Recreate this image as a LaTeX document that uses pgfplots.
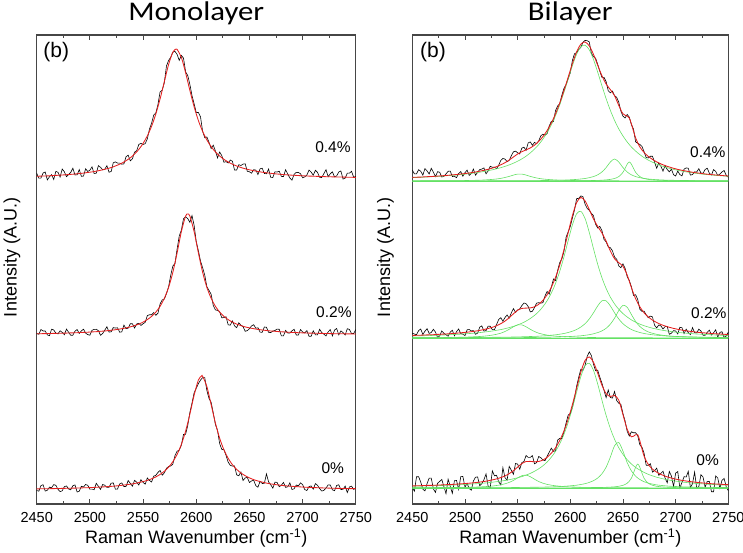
\documentclass[border=0pt]{standalone}
\usepackage{pgfplots}
\pgfplotsset{compat=1.18}
\usepackage{pgfplotstable}
\usepackage{graphicx}
\usepackage{fontspec}
\setmainfont{Liberation Sans}
\newfontfamily\titlefont{Carlito}
\definecolor{fitred}{RGB}{228,30,30}
\definecolor{fitgreen}{RGB}{100,225,100}
\definecolor{axgray}{RGB}{70,70,70}

% ---------- measured spectra (black) ----------
\pgfplotstableread{
x d
2450 330.7
2452 325.8
2454 325.9
2456 331.0
2458 332.0
2460 324.1
2462 327.2
2464 329.4
2466 324.5
2468 332.6
2470 331.7
2472 326.9
2474 335.0
2476 332.2
2478 327.3
2480 329.5
2482 331.6
2484 335.8
2486 329.0
2488 329.2
2490 334.4
2492 327.7
2494 327.9
2496 335.2
2498 332.5
2500 333.8
2502 337.1
2504 330.5
2506 330.8
2508 338.3
2510 336.7
2512 334.2
2514 334.7
2516 338.3
2518 331.8
2520 332.5
2522 341.2
2524 342.1
2526 340.9
2528 340.9
2530 339.8
2532 340.1
2534 347.3
2536 348.8
2538 343.2
2540 345.1
2542 351.9
2544 353.3
2546 359.6
2548 360.6
2550 359.5
2552 360.3
2554 365.1
2556 374.9
2558 380.7
2560 388.9
2562 391.0
2564 399.6
2566 412.1
2568 413.8
2570 421.4
2572 438.0
2574 443.5
2576 446.7
2578 451.8
2580 452.6
2582 449.6
2584 443.6
2586 448.6
2588 445.9
2590 432.2
2592 428.4
2594 419.6
2596 408.4
2598 400.2
2600 391.4
2602 391.5
2604 387.1
2606 372.6
2608 366.3
2610 367.0
2612 361.7
2614 355.4
2616 358.8
2618 353.1
2620 346.1
2622 352.0
2624 348.4
2626 341.7
2628 342.4
2630 341.0
2632 343.9
2634 342.8
2636 333.9
2638 334.0
2640 339.3
2642 338.5
2644 339.9
2646 340.2
2648 332.7
2650 332.2
2652 330.8
2654 334.3
2656 333.9
2658 329.5
2660 335.2
2662 335.8
2664 330.5
2666 330.2
2668 335.0
2670 326.7
2672 326.5
2674 332.2
2676 332.0
2678 332.8
2680 327.6
2682 327.4
2684 334.3
2686 330.1
2688 326.0
2690 323.8
2692 329.7
2694 331.6
2696 331.5
2698 330.3
2700 326.2
2702 327.1
2704 329.0
2706 333.9
2708 331.9
2710 328.8
2712 333.7
2714 331.6
2716 326.6
2718 326.5
2720 330.4
2722 334.3
2724 327.3
2726 330.2
2728 332.2
2730 327.1
2732 328.1
2734 332.0
2736 333.0
2738 324.9
2740 325.9
2742 330.8
2744 330.8
2746 332.7
2748 326.7
2750 327.6
}\datMA

\pgfplotstableread{
x d
2450 170.5
2452 169.7
2454 174.5
2456 173.0
2458 173.0
2460 169.1
2462 168.3
2464 174.8
2466 174.0
2468 170.9
2470 170.1
2472 173.2
2474 171.6
2476 169.3
2478 174.9
2480 171.8
2482 168.7
2484 168.8
2486 172.8
2488 174.5
2490 170.6
2492 173.1
2494 174.8
2496 170.9
2498 169.4
2500 168.8
2502 173.7
2504 174.6
2506 174.7
2508 173.3
2510 168.7
2512 170.5
2514 173.8
2516 177.3
2518 171.9
2520 172.2
2522 176.4
2524 175.9
2526 176.2
2528 171.8
2530 172.1
2532 178.9
2534 175.3
2536 175.8
2538 180.3
2540 180.2
2542 176.0
2544 180.0
2546 180.7
2548 178.5
2550 180.3
2552 181.6
2554 188.4
2556 189.2
2558 189.2
2560 191.4
2562 188.7
2564 190.8
2566 200.1
2568 204.1
2570 204.9
2572 210.4
2574 217.2
2576 228.8
2578 237.9
2580 240.6
2582 254.9
2584 268.0
2586 273.8
2588 285.2
2590 287.3
2592 285.4
2594 281.7
2596 288.4
2598 278.6
2600 262.4
2602 253.3
2604 243.0
2606 236.3
2608 228.8
2610 217.2
2612 213.6
2614 209.7
2616 198.5
2618 194.1
2620 193.6
2622 192.3
2624 186.2
2626 186.4
2628 187.2
2630 179.2
2632 178.8
2634 183.1
2636 178.1
2638 176.3
2640 181.2
2642 178.8
2644 177.4
2646 172.7
2648 173.4
2650 175.3
2652 178.1
2654 179.3
2656 175.8
2658 176.2
2660 171.9
2662 171.6
2664 177.0
2666 176.7
2668 171.7
2670 171.4
2672 172.9
2674 173.5
2676 174.9
2678 174.7
2680 168.2
2682 168.1
2684 173.6
2686 171.0
2688 170.9
2690 173.2
2692 174.7
2694 169.0
2696 168.9
2698 174.4
2700 172.0
2702 171.1
2704 173.4
2706 167.7
2708 167.7
2710 173.2
2712 169.2
2714 169.1
2716 174.7
2718 171.4
2720 169.8
2722 168.1
2724 172.1
2726 174.4
2728 168.0
2730 173.9
2732 175.5
2734 169.1
2736 173.1
2738 171.4
2740 169.0
2742 175.3
2744 174.5
2746 170.5
2748 170.5
2750 174.4
}\datMB

\pgfplotstableread{
x d
2450 13.5
2452 12.8
2454 18.4
2456 19.3
2458 12.9
2460 13.7
2462 16.9
2464 16.2
2466 19.4
2468 18.7
2470 14.7
2472 12.4
2474 13.2
2476 17.3
2478 18.1
2480 15.0
2482 14.2
2484 18.3
2486 19.1
2488 12.0
2490 12.8
2492 17.7
2494 17.0
2496 19.5
2498 18.7
2500 14.8
2502 14.9
2504 14.2
2506 20.7
2508 17.7
2510 14.6
2512 19.5
2514 18.8
2516 16.6
2518 16.7
2520 20.9
2522 21.0
2524 14.8
2526 15.0
2528 20.1
2530 21.1
2532 17.4
2534 17.6
2536 23.5
2538 20.6
2540 17.8
2542 23.7
2544 21.8
2546 19.0
2548 24.3
2550 21.6
2552 19.8
2554 26.0
2556 23.6
2558 22.0
2560 27.8
2562 28.7
2564 31.6
2566 33.6
2568 28.8
2570 31.1
2572 35.6
2574 37.6
2576 38.0
2578 39.9
2580 48.4
2582 52.8
2584 53.8
2586 58.8
2588 69.5
2590 69.7
2592 78.5
2594 91.5
2596 100.9
2598 111.2
2600 115.7
2602 120.4
2604 123.9
2606 126.4
2608 126.3
2610 113.4
2612 105.5
2614 101.7
2616 91.0
2618 79.6
2620 73.6
2622 60.4
2624 54.6
2626 54.4
2628 48.6
2630 41.9
2632 38.7
2634 37.9
2636 38.0
2638 29.2
2640 28.2
2642 32.0
2644 23.5
2646 26.1
2648 26.6
2650 21.5
2652 23.1
2654 23.8
2656 18.3
2658 16.8
2660 22.7
2662 20.5
2664 20.6
2666 30.1
2668 22.1
2670 19.3
2672 15.8
2674 21.9
2676 21.6
2678 17.3
2680 18.7
2682 21.6
2684 16.6
2686 17.2
2688 21.1
2690 14.5
2692 15.2
2694 19.0
2696 18.1
2698 21.1
2700 19.4
2702 14.4
2704 13.5
2706 17.4
2708 18.1
2710 14.8
2712 20.4
2714 18.7
2716 15.4
2718 12.9
2720 13.7
2722 16.0
2724 19.1
2726 19.0
2728 14.2
2730 13.3
2732 18.5
2734 19.2
2736 14.4
2738 14.7
2740 17.9
2742 11.4
2744 17.0
2746 17.8
2748 14.6
2750 16.1
}\datMC

\pgfplotstableread{
x d
2450 334.0
2452 330.1
2454 330.2
2456 334.3
2458 332.7
2460 328.9
2462 335.4
2464 333.1
2466 330.0
2468 335.7
2470 331.8
2472 327.4
2474 332.3
2476 331.7
2478 327.0
2480 327.6
2482 330.1
2484 332.7
2486 332.9
2488 327.5
2490 327.7
2492 326.3
2494 330.5
2496 332.4
2498 327.8
2500 331.3
2502 333.9
2504 328.6
2506 330.5
2508 334.9
2510 328.8
2512 331.6
2514 334.4
2516 334.9
2518 336.1
2520 330.2
2522 333.1
2524 337.7
2526 336.7
2528 336.7
2530 335.4
2532 338.7
2534 343.6
2536 345.5
2538 344.9
2540 342.3
2542 343.6
2544 348.3
2546 352.2
2548 352.9
2550 351.2
2552 350.0
2554 355.9
2556 356.8
2558 353.7
2560 361.1
2562 362.1
2564 358.7
2566 361.6
2568 360.3
2570 363.0
2572 368.2
2574 369.8
2576 368.9
2578 370.3
2580 378.1
2582 382.7
2584 382.5
2586 393.4
2588 398.1
2590 400.3
2592 408.9
2594 415.8
2596 419.4
2598 425.3
2600 431.3
2602 443.6
2604 450.3
2606 451.3
2608 454.4
2610 456.6
2612 461.7
2614 463.6
2616 463.3
2618 462.1
2620 450.7
2622 447.2
2624 445.8
2626 439.6
2628 432.8
2630 426.7
2632 426.6
2634 422.4
2636 413.2
2638 411.2
2640 413.0
2642 408.3
2644 406.7
2646 401.8
2648 392.8
2650 387.8
2652 386.0
2654 389.5
2656 386.8
2658 379.3
2660 375.0
2662 362.1
2664 360.8
2666 359.5
2668 357.6
2670 352.4
2672 346.4
2674 346.0
2676 347.7
2678 347.8
2680 341.8
2682 335.7
2684 341.1
2686 337.7
2688 332.9
2690 338.4
2692 334.5
2694 332.2
2696 334.8
2698 329.3
2700 328.0
2702 333.0
2704 329.4
2706 328.1
2708 334.9
2710 336.1
2712 335.7
2714 328.9
2716 329.4
2718 332.2
2720 332.0
2722 335.3
2724 331.0
2726 330.7
2728 334.5
2730 335.8
2732 330.8
2734 329.0
2736 334.4
2738 332.6
2740 328.5
2742 329.9
2744 332.1
2746 333.5
2748 328.6
2750 326.8
}\datBA

\pgfplotstableread{
x d
2450 170.7
2452 170.0
2454 169.3
2456 173.4
2458 175.0
2460 169.5
2462 172.8
2464 175.3
2466 170.6
2468 171.5
2470 174.7
2472 171.9
2474 166.4
2476 168.1
2478 173.0
2480 170.7
2482 169.2
2484 167.8
2486 171.9
2488 173.7
2490 168.2
2492 172.4
2494 175.0
2496 170.4
2498 169.8
2500 168.4
2502 174.2
2504 174.5
2506 173.1
2508 173.4
2510 169.7
2512 170.9
2514 176.8
2516 178.1
2518 172.9
2520 173.4
2522 177.9
2524 177.7
2526 174.3
2528 174.3
2530 179.5
2532 184.5
2534 186.3
2536 182.8
2538 186.5
2540 189.0
2542 185.9
2544 191.1
2546 195.4
2548 191.6
2550 194.1
2552 195.1
2554 198.4
2556 201.0
2558 200.3
2560 197.6
2562 192.1
2564 192.7
2566 196.4
2568 200.9
2570 201.3
2572 200.9
2574 201.3
2576 208.1
2578 212.5
2580 209.9
2582 216.8
2584 225.0
2586 223.5
2588 233.7
2590 241.5
2592 245.1
2594 252.7
2596 266.9
2598 272.2
2600 277.5
2602 286.0
2604 294.1
2606 305.4
2608 305.6
2610 308.1
2612 307.2
2614 299.9
2616 295.6
2618 293.7
2620 290.6
2622 288.3
2624 279.8
2626 276.0
2628 277.6
2630 273.5
2632 264.6
2634 262.1
2636 257.2
2638 256.3
2640 253.2
2642 246.9
2644 244.9
2646 238.1
2648 236.3
2650 240.1
2652 235.7
2654 227.3
2656 223.5
2658 217.2
2660 208.5
2662 209.3
2664 204.5
2666 194.8
2668 192.7
2670 192.9
2672 189.2
2674 186.3
2676 187.9
2678 187.1
2680 178.7
2682 176.1
2684 179.1
2686 178.1
2688 175.0
2690 177.4
2692 177.6
2694 169.7
2696 170.8
2698 173.4
2700 173.0
2702 170.1
2704 176.7
2706 176.3
2708 170.4
2710 174.8
2712 171.3
2714 169.4
2716 176.4
2718 171.3
2720 171.1
2722 174.8
2724 173.0
2726 168.8
2728 168.7
2730 171.7
2732 173.9
2734 168.9
2736 171.2
2738 174.2
2740 166.9
2742 171.6
2744 172.3
2746 166.5
2748 168.0
2750 171.9
}\datBB

\pgfplotstableread{
x d
2450 16.3
2452 12.8
2454 27.2
2456 27.3
2458 21.9
2460 14.8
2462 13.1
2464 20.4
2466 25.8
2468 25.9
2470 15.1
2472 11.6
2474 20.7
2476 22.6
2478 24.5
2480 17.4
2482 10.3
2484 24.8
2486 17.7
2488 10.6
2490 23.3
2492 23.5
2494 14.6
2496 27.4
2498 27.5
2500 16.9
2502 20.6
2504 15.4
2506 13.8
2508 23.0
2510 26.8
2512 27.1
2514 18.3
2516 20.4
2518 24.3
2520 30.1
2522 17.8
2524 16.5
2526 33.1
2528 28.2
2530 28.7
2532 22.2
2534 19.2
2536 36.3
2538 26.3
2540 23.9
2542 37.6
2544 33.7
2546 29.7
2548 40.5
2550 39.9
2552 34.7
2554 41.4
2556 42.5
2558 48.5
2560 46.6
2562 46.6
2564 48.4
2566 40.2
2568 41.4
2570 47.5
2572 46.3
2574 44.0
2576 43.4
2578 47.7
2580 51.8
2582 55.8
2584 52.6
2586 53.3
2588 64.0
2590 65.6
2592 65.4
2594 72.1
2596 81.1
2598 89.0
2600 90.3
2602 96.5
2604 105.7
2606 117.8
2608 126.8
2610 134.8
2612 133.7
2614 138.5
2616 147.5
2618 152.1
2620 148.5
2622 139.8
2624 133.3
2626 133.8
2628 126.9
2630 120.9
2632 113.7
2634 106.4
2636 114.0
2638 106.5
2640 105.9
2642 112.5
2644 103.5
2646 100.8
2648 99.6
2650 90.3
2652 83.0
2654 72.7
2656 68.0
2658 72.2
2660 71.2
2662 71.3
2664 68.3
2666 59.2
2668 56.8
2670 50.9
2672 38.8
2674 38.6
2676 40.3
2678 31.9
2680 33.4
2682 35.8
2684 28.7
2686 30.6
2688 32.8
2690 25.9
2692 21.2
2694 32.5
2696 28.0
2698 17.4
2700 30.9
2702 32.4
2704 16.0
2706 21.6
2708 27.3
2710 27.0
2712 32.7
2714 16.4
2716 20.2
2718 31.9
2720 15.7
2722 17.4
2724 29.2
2726 27.0
2728 16.8
2730 22.6
2732 22.5
2734 12.3
2736 12.2
2738 28.0
2740 25.9
2742 15.8
2744 23.7
2746 25.5
2748 17.4
2750 13.3
}\datBC

% ---------- fitted curves (red = total, green = components) ----------
\pgfplotstableread{
x f
2450 327.7
2454 327.9
2458 328.0
2462 328.2
2466 328.5
2470 328.7
2474 329.0
2478 329.3
2482 329.6
2486 330.0
2490 330.4
2494 330.9
2498 331.5
2502 332.1
2506 332.8
2510 333.7
2514 334.7
2518 335.8
2522 337.2
2526 338.9
2530 340.8
2534 343.3
2538 346.2
2542 349.9
2546 354.6
2550 360.5
2554 368.1
2558 377.7
2562 390.0
2566 405.1
2570 422.4
2574 439.5
2578 451.8
2581 455.0
2582 454.6
2586 446.6
2590 431.2
2594 413.6
2598 397.2
2602 383.5
2606 372.6
2610 364.0
2614 357.4
2618 352.1
2622 348.0
2626 344.7
2630 342.0
2634 339.8
2638 338.0
2642 336.5
2646 335.2
2650 334.2
2654 333.3
2658 332.5
2662 331.8
2666 331.2
2670 330.7
2674 330.2
2678 329.8
2682 329.4
2686 329.1
2690 328.8
2694 328.6
2698 328.3
2702 328.1
2706 327.9
2710 327.8
2714 327.6
2718 327.5
2722 327.3
2726 327.2
2730 327.1
2734 327.0
2738 326.9
2742 326.8
2746 326.7
2750 326.6
}\monoA

\pgfplotstableread{
x f
2450 170.3
2454 170.3
2458 170.4
2462 170.5
2466 170.6
2470 170.7
2474 170.8
2478 170.9
2482 171.1
2486 171.2
2490 171.4
2494 171.6
2498 171.8
2502 172.1
2506 172.3
2510 172.7
2514 173.0
2518 173.5
2522 174.0
2526 174.6
2530 175.3
2534 176.1
2538 177.1
2542 178.4
2546 179.9
2550 181.9
2554 184.4
2558 187.6
2562 191.9
2566 197.7
2570 205.7
2574 216.6
2578 231.7
2582 251.1
2586 272.4
2590 287.9
2592 290.0
2594 287.9
2598 272.4
2602 251.1
2606 231.7
2610 216.6
2614 205.7
2618 197.7
2622 191.9
2626 187.6
2630 184.4
2634 181.9
2638 179.9
2642 178.4
2646 177.1
2650 176.1
2654 175.3
2658 174.6
2662 174.0
2666 173.5
2670 173.0
2674 172.7
2678 172.3
2682 172.1
2686 171.8
2690 171.6
2694 171.4
2698 171.2
2702 171.1
2706 170.9
2710 170.8
2714 170.7
2718 170.6
2722 170.5
2726 170.4
2730 170.3
2734 170.3
2738 170.2
2742 170.1
2746 170.1
2750 170.0
}\monoB

\pgfplotstableread{
x f
2450 15.1
2454 15.2
2458 15.3
2462 15.3
2466 15.4
2470 15.5
2474 15.6
2478 15.7
2482 15.8
2486 15.9
2490 16.0
2494 16.2
2498 16.3
2502 16.5
2506 16.7
2510 17.0
2514 17.2
2518 17.5
2522 17.8
2526 18.2
2530 18.7
2534 19.2
2538 19.8
2542 20.5
2546 21.4
2550 22.4
2554 23.6
2558 25.2
2562 27.1
2566 29.6
2570 32.7
2574 36.8
2578 42.3
2582 49.6
2586 59.6
2590 72.9
2594 89.9
2598 108.8
2602 124.0
2605 128.0
2606 127.6
2610 117.4
2614 99.3
2618 81.0
2622 65.8
2626 54.2
2630 45.7
2634 39.3
2638 34.6
2642 31.0
2646 28.3
2650 26.1
2654 24.4
2658 23.0
2662 21.9
2666 20.9
2670 20.1
2674 19.5
2678 18.9
2682 18.4
2686 18.0
2690 17.7
2694 17.4
2698 17.1
2702 16.8
2706 16.6
2710 16.4
2714 16.3
2718 16.1
2722 16.0
2726 15.8
2730 15.7
2734 15.6
2738 15.5
2742 15.4
2746 15.4
2750 15.3
}\monoC

\pgfplotstableread{
x f m p1 p2 p3
2450 326.6 326.4 323.1 323.1 323.0
2454 326.8 326.5 323.1 323.1 323.0
2458 326.9 326.7 323.2 323.1 323.0
2462 327.2 326.9 323.2 323.1 323.0
2466 327.4 327.1 323.2 323.1 323.0
2470 327.6 327.4 323.2 323.1 323.0
2474 327.9 327.6 323.2 323.1 323.0
2478 328.2 327.9 323.2 323.1 323.0
2482 328.5 328.2 323.3 323.1 323.0
2486 328.9 328.5 323.3 323.1 323.0
2490 329.3 328.8 323.3 323.1 323.0
2494 329.7 329.2 323.4 323.1 323.0
2498 330.2 329.6 323.4 323.1 323.0
2502 330.7 330.1 323.5 323.1 323.0
2506 331.3 330.6 323.6 323.1 323.0
2510 332.0 331.2 323.7 323.1 323.0
2514 332.8 331.8 323.8 323.1 323.0
2518 333.7 332.5 324.0 323.1 323.0
2522 334.7 333.3 324.3 323.2 323.0
2526 335.9 334.2 324.6 323.2 323.0
2530 337.4 335.2 325.0 323.2 323.0
2534 339.2 336.3 325.6 323.2 323.1
2538 341.3 337.6 326.5 323.2 323.1
2542 344.0 339.1 327.6 323.2 323.1
2546 347.0 340.8 328.9 323.2 323.1
2550 350.0 342.8 329.9 323.3 323.1
2554 352.3 345.1 329.9 323.3 323.1
2558 354.1 347.8 328.9 323.3 323.1
2562 356.1 351.1 327.6 323.3 323.1
2566 358.8 354.9 326.5 323.4 323.1
2570 362.6 359.4 325.6 323.4 323.1
2574 367.4 364.9 325.0 323.5 323.1
2578 373.5 371.4 324.6 323.5 323.1
2582 381.1 379.2 324.3 323.6 323.1
2586 390.2 388.4 324.0 323.7 323.1
2590 401.1 399.3 323.8 323.8 323.1
2594 413.4 411.7 323.7 323.9 323.2
2598 426.9 425.0 323.6 324.1 323.2
2602 440.4 438.4 323.5 324.3 323.2
2606 452.1 449.8 323.4 324.6 323.2
2610 459.8 457.2 323.4 325.0 323.3
2614 462.0 458.8 323.3 325.5 323.3
2618 458.1 454.2 323.3 326.3 323.4
2622 449.6 444.5 323.3 327.4 323.5
2626 438.8 431.8 323.2 329.2 323.6
2630 428.3 418.3 323.2 332.0 323.8
2634 420.0 405.3 323.2 336.4 324.1
2638 414.4 393.7 323.2 342.0 324.6
2642 408.3 383.6 323.2 345.0 325.5
2646 398.6 375.1 323.2 342.0 327.4
2650 390.2 368.0 323.1 336.4 331.7
2654 387.9 362.0 323.1 332.0 339.8
2656 386.0 359.4 323.1 330.4 342.0
2658 380.1 357.0 323.1 329.2 339.8
2662 366.1 352.9 323.1 327.4 331.7
2666 357.1 349.4 323.1 326.3 327.4
2670 351.6 346.4 323.1 325.5 325.5
2674 347.6 343.9 323.1 325.0 324.6
2678 344.6 341.8 323.1 324.6 324.1
2682 342.1 339.9 323.1 324.3 323.8
2686 340.1 338.3 323.1 324.1 323.6
2690 338.4 336.9 323.1 323.9 323.5
2694 337.0 335.7 323.1 323.8 323.4
2698 335.7 334.6 323.1 323.7 323.3
2702 334.6 333.7 323.1 323.6 323.3
2706 333.7 332.9 323.1 323.5 323.2
2710 332.9 332.1 323.1 323.5 323.2
2714 332.1 331.5 323.1 323.4 323.2
2718 331.4 330.9 323.1 323.4 323.2
2722 330.9 330.3 323.1 323.3 323.1
2726 330.3 329.8 323.1 323.3 323.1
2730 329.8 329.4 323.1 323.3 323.1
2734 329.4 329.0 323.1 323.3 323.1
2738 329.0 328.6 323.0 323.2 323.1
2742 328.7 328.3 323.0 323.2 323.1
2746 328.3 328.0 323.0 323.2 323.1
2750 328.0 327.7 323.0 323.2 323.1
}\biA

\pgfplotstableread{
x f m p1 p2 p3
2450 168.5 168.0 166.2 166.2 166.1
2454 168.7 168.1 166.3 166.2 166.1
2458 168.8 168.2 166.3 166.2 166.1
2462 169.0 168.3 166.3 166.3 166.1
2466 169.2 168.4 166.3 166.3 166.1
2470 169.3 168.6 166.4 166.3 166.1
2474 169.6 168.7 166.4 166.3 166.1
2478 169.8 168.9 166.4 166.3 166.1
2482 170.0 169.1 166.5 166.3 166.1
2486 170.3 169.3 166.5 166.4 166.1
2490 170.6 169.5 166.6 166.4 166.2
2494 171.0 169.7 166.7 166.4 166.2
2498 171.4 170.0 166.8 166.4 166.2
2502 171.8 170.3 166.9 166.4 166.2
2506 172.3 170.6 167.1 166.5 166.2
2510 172.9 171.0 167.3 166.5 166.2
2514 173.6 171.4 167.5 166.5 166.2
2518 174.5 171.9 167.8 166.6 166.2
2522 175.5 172.4 168.3 166.6 166.2
2526 176.7 173.0 168.9 166.7 166.3
2530 178.3 173.7 169.7 166.7 166.3
2534 180.3 174.4 170.8 166.8 166.3
2538 182.9 175.3 172.5 166.8 166.3
2542 186.3 176.4 174.7 166.9 166.3
2546 190.2 177.6 177.2 167.0 166.4
2550 193.7 179.1 179.1 167.1 166.4
2554 195.6 180.8 179.1 167.2 166.4
2558 195.9 182.9 177.2 167.3 166.5
2562 196.1 185.5 174.7 167.5 166.5
2566 197.2 188.6 172.5 167.6 166.5
2570 199.7 192.4 170.8 167.8 166.6
2574 203.7 197.3 169.7 168.1 166.7
2578 209.3 203.3 168.9 168.4 166.7
2582 216.8 211.0 168.3 168.8 166.8
2586 226.7 220.7 167.8 169.2 166.9
2590 239.1 232.8 167.5 169.8 167.0
2594 254.3 247.3 167.3 170.5 167.2
2598 271.4 263.5 167.1 171.5 167.4
2602 288.4 279.1 166.9 172.8 167.6
2606 301.4 290.2 166.8 174.5 167.9
2610 306.5 292.7 166.7 177.0 168.2
2614 303.1 285.5 166.6 180.3 168.7
2618 294.5 271.6 166.5 185.0 169.3
2622 285.1 255.3 166.5 191.2 170.2
2626 277.6 239.7 166.4 198.1 171.4
2630 271.1 226.4 166.4 203.2 173.1
2634 262.9 215.6 166.4 203.2 175.7
2638 253.1 206.9 166.3 198.1 179.8
2642 245.3 200.1 166.3 191.2 185.8
2646 241.3 194.7 166.3 185.0 193.4
2650 237.7 190.4 166.3 180.3 198.7
2654 228.9 187.0 166.2 177.0 196.7
2658 216.4 184.1 166.2 174.5 189.5
2662 205.3 181.8 166.2 172.8 182.5
2666 197.2 179.9 166.2 171.5 177.5
2670 191.3 178.3 166.2 170.5 174.3
2674 187.1 177.0 166.2 169.8 172.1
2678 183.9 175.8 166.2 169.2 170.7
2682 181.5 174.9 166.1 168.8 169.7
2686 179.5 174.0 166.1 168.4 169.0
2690 178.0 173.3 166.1 168.1 168.4
2694 176.7 172.7 166.1 167.8 168.0
2698 175.6 172.1 166.1 167.6 167.7
2702 174.7 171.6 166.1 167.5 167.5
2706 173.9 171.2 166.1 167.3 167.3
2710 173.2 170.8 166.1 167.2 167.1
2714 172.6 170.5 166.1 167.1 167.0
2718 172.1 170.1 166.1 167.0 166.9
2722 171.6 169.9 166.1 166.9 166.8
2726 171.2 169.6 166.1 166.8 166.7
2730 170.9 169.4 166.1 166.8 166.6
2734 170.5 169.2 166.1 166.7 166.6
2738 170.2 169.0 166.1 166.7 166.5
2742 170.0 168.8 166.1 166.6 166.5
2746 169.7 168.7 166.1 166.6 166.4
2750 169.5 168.5 166.1 166.5 166.4
}\biB

\pgfplotstableread{
x f m p1 p2 p3
2450 18.1 17.8 16.2 16.1 16.0
2454 18.2 17.9 16.2 16.1 16.0
2458 18.3 18.0 16.2 16.1 16.0
2462 18.5 18.1 16.2 16.1 16.0
2466 18.6 18.2 16.3 16.1 16.0
2470 18.7 18.3 16.3 16.2 16.0
2474 18.9 18.4 16.3 16.2 16.0
2478 19.1 18.5 16.3 16.2 16.0
2482 19.3 18.7 16.4 16.2 16.0
2486 19.5 18.9 16.4 16.2 16.0
2490 19.7 19.0 16.5 16.2 16.0
2494 20.0 19.2 16.5 16.2 16.0
2498 20.3 19.4 16.6 16.2 16.0
2502 20.6 19.7 16.7 16.2 16.0
2506 21.0 19.9 16.8 16.2 16.0
2510 21.4 20.2 16.9 16.3 16.0
2514 21.9 20.5 17.1 16.3 16.0
2518 22.5 20.9 17.3 16.3 16.0
2522 23.2 21.3 17.6 16.3 16.0
2526 24.1 21.8 17.9 16.3 16.0
2530 25.1 22.3 18.5 16.4 16.0
2534 26.4 22.9 19.2 16.4 16.0
2538 28.1 23.5 20.2 16.4 16.0
2542 30.4 24.3 21.6 16.4 16.0
2546 33.3 25.2 23.6 16.5 16.0
2550 36.9 26.2 26.1 16.5 16.0
2554 40.4 27.4 28.3 16.6 16.1
2558 42.5 28.9 28.9 16.6 16.1
2562 42.6 30.6 27.3 16.7 16.1
2566 42.2 32.7 24.8 16.7 16.1
2570 42.5 35.2 22.5 16.8 16.1
2574 44.0 38.2 20.8 16.9 16.1
2578 46.7 42.0 19.6 17.0 16.1
2582 50.8 46.8 18.8 17.1 16.1
2586 56.3 52.7 18.2 17.3 16.1
2590 63.6 60.3 17.8 17.5 16.1
2594 73.1 69.8 17.4 17.7 16.1
2598 85.0 81.7 17.2 18.0 16.1
2602 99.5 96.0 17.0 18.4 16.2
2606 115.8 112.0 16.9 18.8 16.2
2610 131.8 127.4 16.7 19.5 16.2
2614 143.5 138.3 16.6 20.3 16.2
2618 147.1 140.7 16.6 21.6 16.3
2622 141.8 133.7 16.5 23.3 16.3
2626 130.8 120.0 16.5 26.0 16.4
2630 118.9 103.9 16.4 30.2 16.5
2634 110.4 88.6 16.4 36.8 16.7
2638 107.5 75.5 16.3 46.9 16.9
2642 108.5 64.8 16.3 58.2 17.2
2646 103.8 56.3 16.3 61.5 17.7
2650 89.3 49.6 16.3 52.8 18.7
2654 74.7 44.3 16.2 41.4 20.8
2658 67.2 40.0 16.2 33.1 25.8
2662 69.3 36.6 16.2 27.8 36.7
2664 69.3 35.2 16.2 26.0 40.0
2666 63.2 33.9 16.2 24.5 36.7
2670 47.9 31.6 16.2 22.3 25.8
2674 39.6 29.7 16.2 20.9 20.8
2678 34.9 28.1 16.1 19.9 18.7
2682 31.8 26.8 16.1 19.1 17.7
2686 29.6 25.7 16.1 18.6 17.2
2690 27.9 24.7 16.1 18.2 16.9
2694 26.5 23.9 16.1 17.8 16.7
2698 25.4 23.2 16.1 17.6 16.5
2702 24.4 22.6 16.1 17.4 16.4
2706 23.6 22.0 16.1 17.2 16.3
2710 23.0 21.5 16.1 17.1 16.3
2714 22.4 21.1 16.1 17.0 16.2
2718 21.9 20.7 16.1 16.9 16.2
2722 21.4 20.4 16.1 16.8 16.2
2726 21.0 20.1 16.1 16.7 16.2
2730 20.6 19.8 16.1 16.6 16.1
2734 20.3 19.6 16.1 16.6 16.1
2738 20.0 19.3 16.1 16.5 16.1
2742 19.8 19.1 16.1 16.5 16.1
2746 19.5 18.9 16.1 16.5 16.1
2750 19.3 18.8 16.1 16.4 16.1
}\biC

\pgfplotsset{
  ramanax/.style={
    scale only axis, height=469pt,
    xmin=2450, xmax=2750, ymin=0, ymax=469,
    xtick={2450,2500,...,2750}, minor x tick num=1, ytick=\empty,
    xtick pos=both, tick align=inside,
    major tick length=5pt, minor tick length=3pt,
    every tick/.style={axgray, line width=0.8pt},
    axis line style={axgray, line width=1.1pt},
    xticklabel style={font=\fontsize{14.5}{16}\selectfont, yshift=-4.5pt},
    /pgf/number format/1000 sep={},
    /pgf/number format/assume math mode=true,
    xlabel={Raman Wavenumber (cm\textsuperscript{-1})},
    xlabel style={font=\fontsize{18}{20}\selectfont, at={(axis description cs:0.5,0)}, anchor=base, yshift=-39.3pt},
    ylabel={Intensity (A.U.)},
    ylabel style={font=\fontsize{18}{20}\selectfont, anchor=center},
    title style={font=\titlefont\fontsize{27}{30}\selectfont, at={(axis description cs:0.5,1)}, anchor=base, yshift=8.3pt},
  },
  datastyle/.style={black, line width=0.6pt},
  redfit/.style={fitred, line width=0.85pt, smooth},
  greenfit/.style={fitgreen, line width=0.6pt, smooth},
}
\tikzset{
  pct/.style={anchor=east, inner sep=0pt, font=\fontsize{15.5}{17}\selectfont},
  blab/.style={anchor=west, inner sep=0pt, font=\fontsize{21}{23}\selectfont},
}

\begin{document}
\begin{tikzpicture}
\useasboundingbox (0,0) rectangle (743pt,553pt);

\begin{axis}[ramanax, at={(36.7pt,49pt)}, anchor=south west, width=319.1pt,
  title={\scalebox{1.14}[1]{Monolayer}},
  ylabel style={at={(axis description cs:-0.0774,0.5256)}}]
  \addplot[datastyle] table[x=x,y=d]{\datMA};
  \addplot[redfit] table[x=x,y=f]{\monoA};
  \addplot[datastyle] table[x=x,y=d]{\datMB};
  \addplot[redfit] table[x=x,y=f]{\monoB};
  \addplot[datastyle] table[x=x,y=d]{\datMC};
  \addplot[redfit] table[x=x,y=f]{\monoC};
  \node[pct] at (axis cs:2745.3,357.3) {0.4\%};
  \node[pct] at (axis cs:2746.2,191.7) {0.2\%};
  \node[pct] at (axis cs:2739.0,35.7) {0\%};
  \node[blab] at (axis cs:2456.2,452.3) {(b)};
\end{axis}

\begin{axis}[ramanax, at={(412.3pt,49pt)}, anchor=south west, width=316pt,
  title={\scalebox{1.14}[1]{Bilayer}},
  ylabel style={at={(axis description cs:-0.0851,0.5256)}}]
  \addplot[datastyle] table[x=x,y=d]{\datBA};
  \addplot[greenfit] table[x=x,y=m]{\biA};
  \addplot[greenfit] table[x=x,y=p1]{\biA};
  \addplot[greenfit] table[x=x,y=p2]{\biA};
  \addplot[greenfit] table[x=x,y=p3]{\biA};
  \addplot[fitgreen, line width=0.6pt] coordinates {(2450,323) (2750,323)};
  \addplot[redfit] table[x=x,y=f]{\biA};
  \addplot[datastyle] table[x=x,y=d]{\datBB};
  \addplot[greenfit] table[x=x,y=m]{\biB};
  \addplot[greenfit] table[x=x,y=p1]{\biB};
  \addplot[greenfit] table[x=x,y=p2]{\biB};
  \addplot[greenfit] table[x=x,y=p3]{\biB};
  \addplot[fitgreen, line width=0.6pt] coordinates {(2450,166) (2750,166)};
  \addplot[redfit] table[x=x,y=f]{\biB};
  \addplot[datastyle] table[x=x,y=d]{\datBC};
  \addplot[greenfit] table[x=x,y=m]{\biC};
  \addplot[greenfit] table[x=x,y=p1]{\biC};
  \addplot[greenfit] table[x=x,y=p2]{\biC};
  \addplot[greenfit] table[x=x,y=p3]{\biC};
  \addplot[fitgreen, line width=0.6pt] coordinates {(2450,16) (2750,16)};
  \addplot[redfit] table[x=x,y=f]{\biC};
  \node[pct] at (axis cs:2747.5,351.7) {0.4\%};
  \node[pct] at (axis cs:2748.5,191.3) {0.2\%};
  \node[pct] at (axis cs:2741.2,44.0) {0\%};
  \node[blab] at (axis cs:2457.3,452.3) {(b)};
\end{axis}
\end{tikzpicture}
\end{document}
